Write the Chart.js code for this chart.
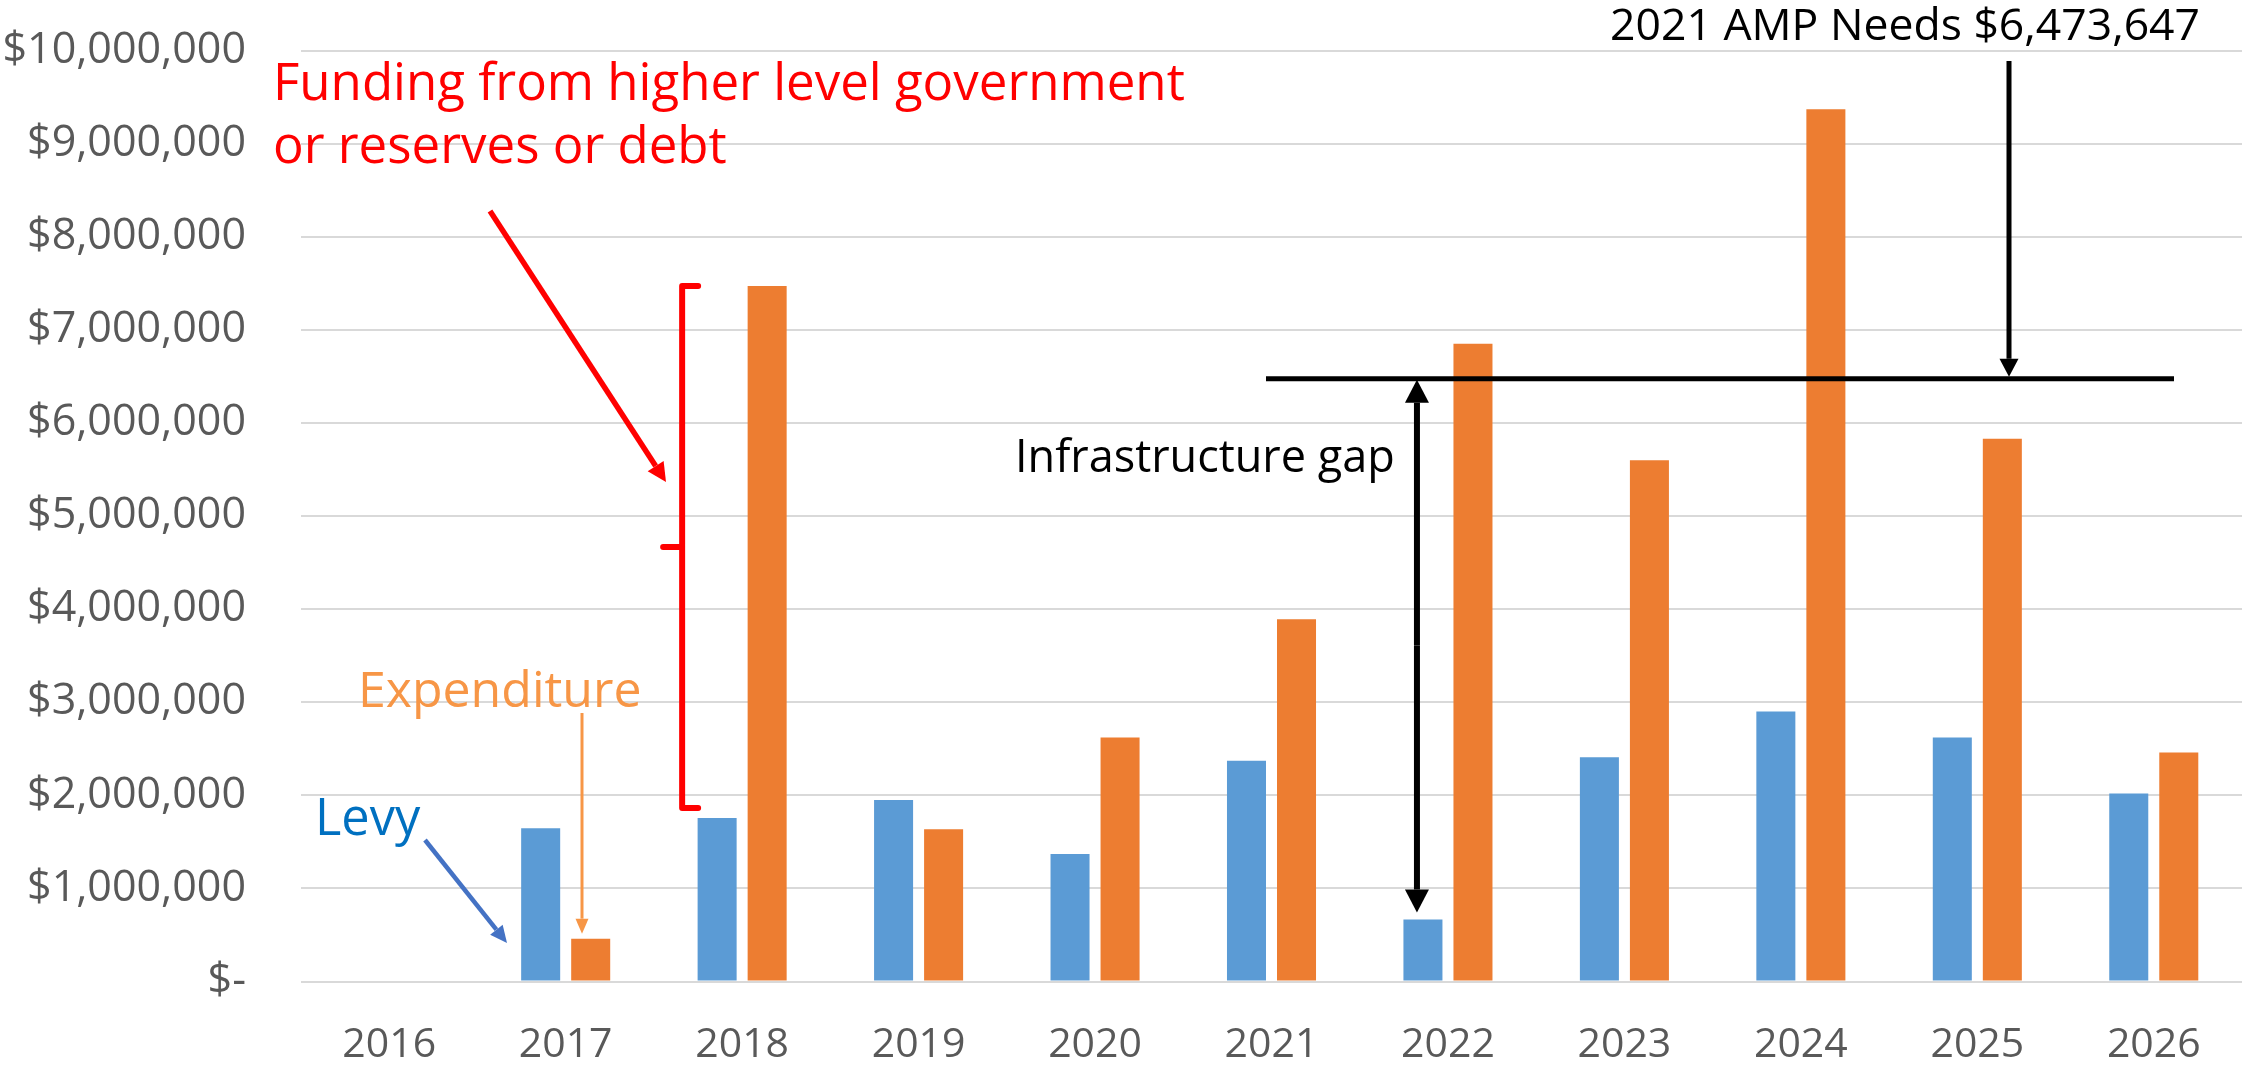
<!DOCTYPE html>
<html>
<head>
<meta charset="UTF-8">
<title>Levy and Expenditure 2016 - 2026</title>
<script src="https://cdn.jsdelivr.net/npm/chart.js@4.4.1/dist/chart.umd.min.js"></script>
<style>
body { margin: 0; background: #fff; }
#wrap { width: 2242px; height: 1066px; }
</style>
</head>
<body>
<div id="wrap"><canvas id="myChart"></canvas></div>
<script>
// yearly values, dollars
var years = ["2016", "2017", "2018", "2019", "2020", "2021", "2022", "2023", "2024", "2025", "2026"];
var levy = [null, 1645000, 1755000, 1950000, 1370000, 2370000, 667000, 2410000, 2900000, 2620000, 2020000];
var expenditure = [null, 460000, 7470000, 1635000, 2620000, 3890000, 6850000, 5600000, 9370000, 5830000, 2460000];
var ampNeeds = 6473647;
var ampLabel = "2021 AMP Needs $6,473,647";
var fundingLabel = ["Funding from higher level government", "or reserves or debt"];
var yMax = 10000000;
var yStep = 1000000;

var face = "'Open Sans', 'DejaVu Sans', sans-serif";

function money(v)
{
    if (v === 0) return "$-";
    return "$" + v.toLocaleString("en-US");
}

// straight line with a filled triangle head at (x2, y2)
function arrow(ctx, x1, y1, x2, y2, lw, headLen, headW, color)
{
    var a = Math.atan2(y2 - y1, x2 - x1);
    var bx = x2 - headLen * Math.cos(a);
    var by = y2 - headLen * Math.sin(a);
    ctx.strokeStyle = color;
    ctx.fillStyle = color;
    ctx.lineWidth = lw;
    ctx.lineCap = "butt";
    ctx.beginPath();
    ctx.moveTo(x1, y1);
    ctx.lineTo(bx, by);
    ctx.stroke();
    ctx.beginPath();
    ctx.moveTo(x2, y2);
    ctx.lineTo(bx + headW / 2 * Math.sin(a), by - headW / 2 * Math.cos(a));
    ctx.lineTo(bx - headW / 2 * Math.sin(a), by + headW / 2 * Math.cos(a));
    ctx.closePath();
    ctx.fill();
}

// labels, arrows, bracket and the AMP needs line on top of the bars
var notes = {
    id: "notes",
    afterDatasetsDraw: function(chart)
    {
        var ctx = chart.ctx;
        var xs = chart.scales.x;
        var ys = chart.scales.y;
        ctx.save();
        ctx.textBaseline = "alphabetic";

        // AMP needs level
        var yAmp = ys.getPixelForValue(ampNeeds);
        ctx.strokeStyle = "#000";
        ctx.lineWidth = 5;
        ctx.beginPath();
        ctx.moveTo(1266, yAmp);
        ctx.lineTo(2174, yAmp);
        ctx.stroke();
        arrow(ctx, 2009, 61, 2009, yAmp - 2, 5, 18, 19, "#000");

        ctx.font = "44.5px " + face;
        ctx.fillStyle = "#000";
        ctx.textAlign = "right";
        ctx.fillText(ampLabel, 2200, 40);
        ctx.textAlign = "left";

        // infrastructure gap, between the 2022 levy and the AMP line
        var gx = xs.getPixelForValue(6) - 31;
        var yLow = ys.getPixelForValue(levy[6]) - 7;
        var mid = (yAmp + yLow) / 2;
        arrow(ctx, gx, mid, gx, yAmp + 1, 6, 23, 24, "#000");
        arrow(ctx, gx, mid, gx, yLow, 6, 23, 24, "#000");
        ctx.font = "45px " + face;
        ctx.fillStyle = "#000";
        ctx.fillText("Infrastructure gap", 1015, 472);

        // bracket over the 2018 shortfall
        var bx = xs.getPixelForValue(2) - 60;
        var bTop = ys.getPixelForValue(expenditure[2]);
        var bBot = ys.getPixelForValue(levy[2]) - 10;
        ctx.strokeStyle = "#ff0000";
        ctx.lineWidth = 6;
        ctx.lineJoin = "round";
        ctx.lineCap = "round";
        ctx.beginPath();
        ctx.moveTo(bx + 16, bTop);
        ctx.lineTo(bx, bTop);
        ctx.lineTo(bx, bBot);
        ctx.lineTo(bx + 16, bBot);
        ctx.moveTo(bx - 19, 547);
        ctx.lineTo(bx, 547);
        ctx.stroke();
        arrow(ctx, 490, 211, 666, 482, 5.5, 19, 19, "#ff0000");

        ctx.font = "51px " + face;
        ctx.fillStyle = "#ff0000";
        ctx.fillText(fundingLabel[0], 273, 100);
        ctx.fillText(fundingLabel[1], 273, 163);

        // series call-outs
        ctx.font = "50px " + face;
        ctx.fillStyle = "#f79646";
        ctx.fillText("Expenditure", 358, 707);
        arrow(ctx, 582, 713, 582, ys.getPixelForValue(expenditure[1]) - 5, 3, 15, 13, "#f79646");

        ctx.font = "50.5px " + face;
        ctx.fillStyle = "#0070c0";
        ctx.fillText("Levy", 315, 835);
        arrow(ctx, 425, 840, 507, 943, 4.5, 17, 16, "#4472c4");

        ctx.restore();
    }
};

new Chart(document.getElementById("myChart"),
{
    type: "bar",
    data: {
        labels: years,
        datasets: [
            { label: "Levy", data: levy, backgroundColor: "#5b9bd5" },
            { label: "Expenditure", data: expenditure, backgroundColor: "#ed7d31" }
        ]
    },
    options: {
        responsive: true,
        maintainAspectRatio: false,
        animation: false,
        categoryPercentage: 0.567,
        barPercentage: 0.78,
        layout: { padding: { top: 50.5, right: 0, bottom: 0, left: 0 } },
        plugins: { legend: { display: false }, tooltip: { enabled: false } },
        scales: {
            x: {
                grid: { display: false },
                border: { display: false },
                ticks: { color: "#595959", font: { family: face, size: 41 }, padding: 31 },
                afterFit: function(s) { s.height = 84.5; s.paddingLeft = 0; s.paddingRight = 0; }
            },
            y: {
                min: 0,
                max: yMax,
                grid: { color: "#d9d9d9", lineWidth: 2, drawTicks: false },
                border: { display: false },
                ticks: {
                    stepSize: yStep,
                    color: "#595959",
                    font: { family: face, size: 43 },
                    padding: 55,
                    callback: function(v) { return money(v); }
                },
                // fixed axis width; no extra room for the end labels
                afterFit: function(s) { s.width = 301; s.paddingTop = 0; s.paddingBottom = 0; }
            }
        }
    },
    plugins: [notes]
});
</script>
</body>
</html>
